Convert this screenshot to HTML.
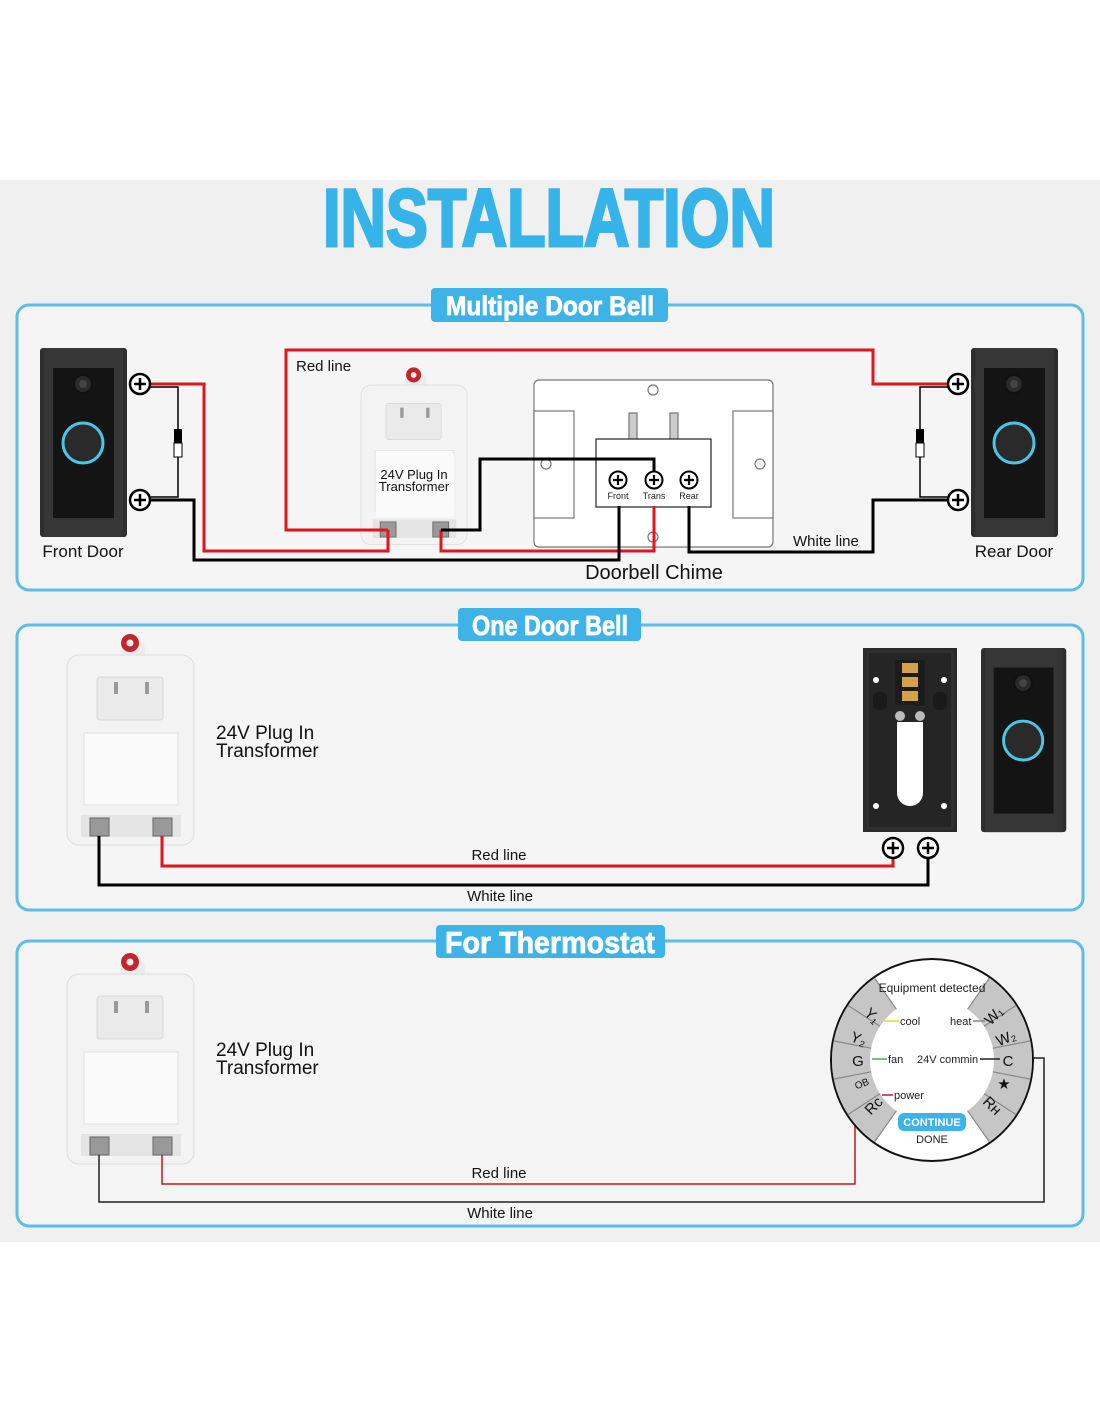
<!DOCTYPE html>
<html><head><meta charset="utf-8"><style>
html,body{margin:0;padding:0;background:#fff;}
svg{display:block;font-family:"Liberation Sans",sans-serif;}
</style></head><body>
<svg width="1100" height="1422" viewBox="0 0 1100 1422" xmlns="http://www.w3.org/2000/svg">
<defs>
<g id="bell">
 <rect x="0" y="0" width="87" height="189" rx="3" fill="#2e2e2e"/>
 <rect x="4" y="0" width="79" height="189" fill="#363636"/>
 <rect x="13" y="20" width="61" height="150" fill="#141414"/>
 <circle cx="43" cy="36" r="9" fill="#2a2a2a" stroke="#111" stroke-width="2"/>
 <circle cx="43" cy="36" r="4" fill="#444"/>
 <circle cx="43" cy="95" r="20" fill="#2a2a2a" stroke="#4ac6e6" stroke-width="3"/>
</g>
<g id="term">
 <circle r="10" fill="#fff" stroke="#000" stroke-width="2.5"/>
 <path d="M-6 0H6M0 -6V6" stroke="#000" stroke-width="2.5"/>
</g>
<g id="tterm">
 <circle r="8.5" fill="#fff" stroke="#000" stroke-width="2"/>
 <path d="M-5 0H5M0 -5V5" stroke="#000" stroke-width="2.2"/>
</g>
<g id="xfmr">
 <rect x="54" y="-14" width="24" height="22" rx="8" fill="#ececec"/>
 <circle cx="63" cy="-12" r="9" fill="#c0272d"/>
 <circle cx="63" cy="-12" r="3.5" fill="#eee"/>
 <rect x="0" y="0" width="127" height="190" rx="12" fill="#f3f3f3" stroke="#ddd"/>
 <rect x="30" y="22" width="66" height="43" rx="3" fill="#eaeaea" stroke="#d8d8d8"/>
 <rect x="47" y="27" width="4" height="12" fill="#999"/><rect x="78" y="27" width="4" height="12" fill="#999"/>
 <rect x="17" y="78" width="94" height="72" fill="#fafafa" stroke="#e0e0e0"/>
 <rect x="14" y="160" width="100" height="22" fill="#e4e4e4"/>
 <rect x="23" y="163" width="19" height="18" fill="#999" stroke="#666"/>
 <rect x="86" y="163" width="19" height="18" fill="#999" stroke="#666"/>
</g>
</defs>

<rect x="0" y="180" width="1100" height="1062" fill="#f0f0f0"/>

<text x="549" y="246" text-anchor="middle" font-size="82" font-weight="bold" fill="#36b4e9" stroke="#36b4e9" stroke-width="3" textLength="452" lengthAdjust="spacingAndGlyphs" font-family="Liberation Sans Narrow, Liberation Sans, sans-serif">INSTALLATION</text>

<!-- panels -->
<g fill="#f6f6f6" fill-opacity="0.7" stroke="#5cbde6" stroke-width="3">
<rect x="17" y="305" width="1066" height="285" rx="12"/>
<rect x="17" y="625" width="1066" height="285" rx="12"/>
<rect x="17" y="941" width="1066" height="285" rx="12"/>
</g>
<g fill="#3db3e7">
<rect x="431" y="288" width="237" height="34" rx="4"/>
<rect x="458" y="608" width="183" height="33" rx="4"/>
<rect x="436" y="925" width="229" height="33" rx="4"/>
</g>
<g fill="#fff" stroke="#fff" stroke-width="0.8" font-weight="bold" text-anchor="middle" font-family="Liberation Sans Narrow, Liberation Sans, sans-serif">
<text x="550" y="315" font-size="27" textLength="208" lengthAdjust="spacingAndGlyphs">Multiple Door Bell</text>
<text x="550" y="635" font-size="28" textLength="156" lengthAdjust="spacingAndGlyphs">One Door Bell</text>
<text x="550" y="953" font-size="31" textLength="210" lengthAdjust="spacingAndGlyphs">For Thermostat</text>
</g>

<!-- SECTION 1 -->
<use href="#bell" x="40" y="348"/>
<use href="#bell" x="971" y="348"/>
<g fill="#fff" stroke="#777" stroke-width="1.2">
<rect x="534" y="380" width="239" height="167" rx="5"/>
<rect x="534" y="411" width="40" height="107"/>
<rect x="733" y="411" width="40" height="107"/>
<circle cx="653" cy="390" r="5"/><circle cx="546" cy="464" r="5"/><circle cx="760" cy="464" r="5"/><circle cx="653" cy="537" r="5"/>
<rect x="629" y="413" width="8" height="27" fill="#ccc"/><rect x="670" y="413" width="8" height="27" fill="#ccc"/>
<rect x="596" y="439" width="115" height="68" stroke="#222"/>
</g>
<g transform="translate(361,385) scale(0.835,0.84)"><use href="#xfmr"/></g>
<rect x="376" y="455" width="78" height="62" fill="#fafafa"/>
<text x="414" y="479" font-size="13" text-anchor="middle" fill="#111">24V Plug In</text>
<text x="414" y="491" font-size="13" text-anchor="middle" fill="#111">Transformer</text>

<g fill="none" stroke-width="3" stroke-linejoin="miter">
<path d="M150 384H204V551H388V530" stroke="#e0161c"/>
<path d="M388 530H286V350H873V384H948" stroke="#e0161c"/>
<path d="M441 530V551H654V506" stroke="#e0161c"/>
<path d="M150 500H194V560H619V506" stroke="#000"/>
<path d="M441 530H480V459H654V480" stroke="#000"/>
<path d="M689 506V552H873V500H948" stroke="#000"/>
</g>
<g fill="none" stroke="#000" stroke-width="1.5">
<path d="M150 387H178V497H150"/><path d="M948 387H920V497H948"/>
</g>
<rect x="174" y="429" width="8" height="14" fill="#000"/><rect x="174" y="443" width="8" height="14" fill="#fff" stroke="#000"/>
<rect x="916" y="429" width="8" height="14" fill="#000"/><rect x="916" y="443" width="8" height="14" fill="#fff" stroke="#000"/>
<use href="#term" x="140" y="384"/><use href="#term" x="140" y="500"/>
<use href="#term" x="958" y="384"/><use href="#term" x="958" y="500"/>
<use href="#tterm" x="618" y="480"/><use href="#tterm" x="654" y="480"/><use href="#tterm" x="689" y="480"/>
<g font-size="9" text-anchor="middle" fill="#222"><text x="618" y="499">Front</text><text x="654" y="499">Trans</text><text x="689" y="499">Rear</text></g>
<text x="296" y="371" font-size="15" fill="#111">Red line</text>
<text x="83" y="557" font-size="17" text-anchor="middle" fill="#111">Front Door</text>
<text x="1014" y="557" font-size="17" text-anchor="middle" fill="#111">Rear Door</text>
<text x="793" y="546" font-size="15" fill="#111">White line</text>
<text x="654" y="579" font-size="20" text-anchor="middle" fill="#111">Doorbell Chime</text>

<!-- SECTION 2 -->
<use href="#xfmr" x="67" y="655"/>
<text x="216" y="739" font-size="19" fill="#111">24V Plug In</text>
<text x="216" y="757" font-size="19" fill="#111">Transformer</text>
<path d="M162 836V866H893V858" fill="none" stroke="#e0161c" stroke-width="3"/>
<path d="M99 836V885H928V858" fill="none" stroke="#000" stroke-width="3"/>
<use href="#term" x="893" y="848"/><use href="#term" x="928" y="848"/>
<text x="499" y="860" font-size="15" text-anchor="middle" fill="#111">Red line</text>
<text x="500" y="901" font-size="15" text-anchor="middle" fill="#111">White line</text>
<rect x="863" y="648" width="94" height="184" fill="#2b2b2b"/>
<rect x="868" y="652" width="84" height="176" fill="#252525" stroke="#3a3a3a"/>
<rect x="895" y="660" width="30" height="45" fill="#1c1c1c"/>
<g fill="#d4a24a"><rect x="902" y="663" width="16" height="10"/><rect x="902" y="677" width="16" height="10"/><rect x="902" y="691" width="16" height="10"/></g>
<rect x="897" y="722" width="26" height="84" rx="13" fill="#fff"/>
<rect x="897" y="722" width="26" height="20" fill="#fff"/>
<circle cx="900" cy="716" r="5" fill="#bbb"/><circle cx="920" cy="716" r="5" fill="#bbb"/>
<g fill="#fff"><circle cx="876" cy="680" r="3"/><circle cx="944" cy="680" r="3"/><circle cx="876" cy="806" r="3"/><circle cx="944" cy="806" r="3"/></g>
<rect x="873" y="692" width="14" height="18" rx="6" fill="#1a1a1a"/><rect x="933" y="692" width="14" height="18" rx="6" fill="#1a1a1a"/>
<use href="#bell" transform="translate(981,648) scale(0.98,0.974)"/>

<!-- SECTION 3 -->
<use href="#xfmr" x="67" y="974"/>
<text x="216" y="1056" font-size="19" fill="#111">24V Plug In</text>
<text x="216" y="1074" font-size="19" fill="#111">Transformer</text>
<path d="M162 1155V1184H855V1125" fill="none" stroke="#c8161c" stroke-width="1.5"/>
<path d="M99 1155V1202H1044V1058H1030" fill="none" stroke="#222" stroke-width="1.5"/>
<text x="499" y="1178" font-size="15" text-anchor="middle" fill="#111">Red line</text>
<text x="500" y="1218" font-size="15" text-anchor="middle" fill="#111">White line</text>
<circle cx="932" cy="1060" r="101" fill="#fff" stroke="#111" stroke-width="2"/>
<circle cx="932" cy="1060" r="81" fill="none" stroke="#c6c6c6" stroke-width="38" stroke-dasharray="155.5 98.9 155.5 98.9" stroke-dashoffset="77.75"/>
<g stroke="#888" stroke-width="1.2">
<line x1="967.6" y1="1009.2" x2="989.4" y2="978.1"/><line x1="984" y1="1026.2" x2="1015.9" y2="1005.5"/>
<line x1="992.9" y1="1048.2" x2="1030.2" y2="1040.9"/><line x1="992.9" y1="1071.8" x2="1030.2" y2="1079.1"/>
<line x1="984" y1="1093.8" x2="1015.9" y2="1114.5"/><line x1="967.6" y1="1110.8" x2="989.4" y2="1141.9"/>
<line x1="896.4" y1="1110.8" x2="874.6" y2="1141.9"/><line x1="880" y1="1093.8" x2="848.1" y2="1114.5"/>
<line x1="871.1" y1="1071.8" x2="833.8" y2="1079.1"/><line x1="871.1" y1="1048.2" x2="833.8" y2="1040.9"/>
<line x1="880" y1="1026.2" x2="848.1" y2="1005.5"/><line x1="896.4" y1="1009.2" x2="874.6" y2="978.1"/>
</g>
<g font-size="15" fill="#111" text-anchor="middle">
<text x="873" y="1021" transform="rotate(45 873 1015)">Y₁</text>
<text x="859" y="1044" transform="rotate(22 859 1038)">Y₂</text>
<text x="858" y="1066">G</text>
<text x="862" y="1087" font-size="10" transform="rotate(-22 862 1084)">OB</text>
<text x="873" y="1111" transform="rotate(-45 873 1105)">Rc</text>
<text x="993" y="1021" transform="rotate(-45 993 1015)">W₁</text>
<text x="1006" y="1043" transform="rotate(-22 1006 1038)">W₂</text>
<text x="1008" y="1066">C</text>
<text x="1004" y="1089">★</text>
<text x="993" y="1111" transform="rotate(45 993 1105)">Rн</text>
</g>
<g font-size="11" fill="#222">
<text x="932" y="992" text-anchor="middle" font-size="12">Equipment detected</text>
<text x="900" y="1025">cool</text><text x="950" y="1025">heat</text>
<text x="888" y="1063">fan</text><text x="917" y="1063">24V commin</text>
<text x="894" y="1099">power</text>
<text x="932" y="1143" text-anchor="middle">DONE</text>
</g>
<g stroke-width="1.5"><line x1="884" y1="1021" x2="899" y2="1021" stroke="#e6d92a"/><line x1="973" y1="1021" x2="985" y2="1021" stroke="#888"/>
<line x1="872" y1="1059" x2="887" y2="1059" stroke="#3cb44a"/><line x1="980" y1="1059" x2="1000" y2="1059" stroke="#222"/>
<line x1="882" y1="1095" x2="893" y2="1095" stroke="#c8161c"/></g>
<rect x="898" y="1113" width="68" height="18" rx="6" fill="#3db3e7"/>
<text x="932" y="1126" font-size="11" font-weight="bold" fill="#fff" text-anchor="middle">CONTINUE</text>
</svg>
</body></html>
